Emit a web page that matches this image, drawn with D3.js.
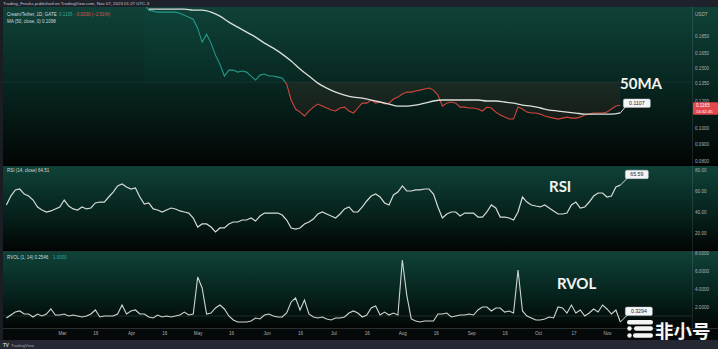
<!DOCTYPE html>
<html><head><meta charset="utf-8">
<script src="https://cdn.jsdelivr.net/npm/d3@7"></script>
<style>html,body{margin:0;padding:0;background:#000;overflow:hidden}</style>
</head><body><svg id="c" width="718" height="349"></svg>
<script>
// ---------- data ----------
const priceStart = "2023-04-07", priceStepDays = 2;
const price = [0.2300,0.2207,0.2193,0.2178,0.2178,0.2178,0.2178,0.2178,0.2163,0.2135,
0.2106,0.2078,0.1956,0.1781,0.1879,0.1769,0.1632,0.1536,0.1418,0.1476,
0.1476,0.1456,0.1466,0.1456,0.1418,0.1380,0.1427,0.1437,0.1418,0.1418,
0.1408,0.1399,0.1343,0.1207,0.1136,0.1113,0.1084,0.1121,0.1151,0.1175,
0.1159,0.1144,0.1128,0.1121,0.1144,0.1151,0.1121,0.1106,0.1144,0.1182,
0.1182,0.1207,0.1182,0.1191,0.1175,0.1182,0.1215,0.1231,0.1256,0.1273,
0.1273,0.1282,0.1290,0.1299,0.1308,0.1290,0.1248,0.1159,0.1182,0.1191,
0.1182,0.1151,0.1151,0.1144,0.1144,0.1136,0.1121,0.1151,0.1144,0.1113,
0.1091,0.1076,0.1062,0.1062,0.1151,0.1136,0.1113,0.1106,0.1106,0.1098,
0.1084,0.1076,0.1069,0.1062,0.1069,0.1076,0.1069,0.1069,0.1076,0.1091,
0.1098,0.1106,0.1106,0.1106,0.1113,0.1136,0.1159,0.1165];
const baselineValue = 0.1362;

const maStart = "2023-04-09", maStepDays = 4;
const ma50 = [0.2222,0.2222,0.2222,0.2222,0.2222,0.2207,0.2207,0.2178,0.2120,0.2037,
0.1969,0.1904,0.1842,0.1769,0.1711,0.1643,0.1568,0.1486,0.1418,0.1352,
0.1308,0.1273,0.1248,0.1231,0.1223,0.1207,0.1191,0.1175,0.1159,0.1159,
0.1167,0.1182,0.1199,0.1207,0.1207,0.1207,0.1207,0.1207,0.1199,0.1199,
0.1191,0.1182,0.1167,0.1159,0.1144,0.1128,0.1121,0.1113,0.1106,0.1098,
0.1098,0.1098,0.1098,0.1107];

const oscStart = "2023-02-04", oscStepDays = 2;
const rsi = [46.7,55.2,61.0,61.9,57.1,55.2,51.4,44.8,41.9,40.0,
41.0,42.9,44.8,51.4,45.7,42.9,41.9,44.8,42.9,43.8,
48.6,49.5,49.5,54.3,59.0,64.8,66.7,63.8,61.9,62.9,
54.3,47.6,48.6,42.9,41.9,40.0,41.9,43.8,42.9,41.0,
40.0,39.0,34.3,25.7,28.6,28.6,25.7,21.0,24.8,24.8,
28.6,30.5,30.5,32.4,32.4,34.3,31.4,36.2,39.0,39.0,
39.0,39.0,37.1,32.4,24.8,23.8,24.8,28.6,30.5,33.3,
38.1,40.0,38.1,36.2,34.3,38.1,42.9,44.8,40.0,40.0,
44.8,50.5,55.2,57.1,54.3,48.6,46.7,56.2,59.0,64.8,
60.0,60.0,61.0,61.0,61.9,61.9,57.1,44.8,34.3,38.1,
40.0,40.0,36.2,39.0,39.0,39.0,35.2,35.2,40.0,46.7,
43.8,35.2,35.2,34.3,32.4,40.0,54.3,49.5,46.7,45.7,
44.8,46.7,43.8,41.0,38.1,38.1,39.0,46.7,49.5,43.8,
44.8,49.5,55.2,58.1,58.1,54.3,55.2,63.8,65.59];
const rvol = [0.78,1.11,1.44,1.56,1.22,1.22,0.89,1.22,1.00,1.22,
1.78,1.11,1.11,1.22,1.00,1.11,1.00,0.89,1.00,1.22,
1.67,0.89,1.00,1.00,1.00,1.22,2.22,1.22,1.56,1.67,
1.22,1.22,0.89,0.78,1.11,0.89,1.00,0.89,1.00,1.11,
1.44,1.11,1.22,5.33,4.11,1.22,1.33,1.89,2.22,1.78,
1.00,0.56,0.33,0.33,0.33,0.44,0.78,0.67,1.11,1.22,
1.00,0.89,0.89,1.33,2.56,3.00,1.67,2.78,1.22,0.89,
0.78,0.89,0.67,0.56,0.78,0.78,0.89,1.33,1.56,1.33,
0.89,1.11,1.89,2.11,1.11,1.44,1.11,1.33,1.11,7.22,
3.30,0.67,0.44,0.33,0.44,0.44,0.44,1.22,1.22,1.33,
0.89,1.00,1.11,1.11,1.22,1.11,1.67,2.00,2.00,1.56,
1.89,1.89,1.44,1.56,1.33,6.11,1.56,1.00,0.78,0.56,
0.56,0.67,0.89,0.78,2.00,1.89,1.33,2.22,1.33,1.67,
1.00,1.33,1.78,1.44,2.22,1.78,1.22,1.67,0.3294];
const rvolLevel = 1.0;

const priceTicks = [0.1850,0.1650,0.1500,0.1350,0.1200,0.1000,0.0900,0.0800];
const rsiTicks = [20,40,60,80];
const rvolTicks = [2,4,6,8];
const xTickDates = ["2023-03-01","2023-03-16","2023-04-01","2023-04-16","2023-05-01","2023-05-16","2023-06-01","2023-06-16","2023-07-01","2023-07-16","2023-08-01","2023-08-16","2023-09-01","2023-09-16","2023-10-01","2023-10-17","2023-11-01"];
const xTickLabels = ["Mar","16","Apr","16","May","16","Jun","16","Jul","16","Aug","16","Sep","16","Oct","17","Nov"];

// ---------- helpers ----------
const parse = d3.utcParse("%Y-%m-%d");
const series = (start, step, vals) => vals.map((v,i)=>({d:d3.utcDay.offset(parse(start), step*i), v}));
const P = series(priceStart, priceStepDays, price);
const M = series(maStart, maStepDays, ma50);
const R = series(oscStart, oscStepDays, rsi);
const V = series(oscStart, oscStepDays, rvol);

const svg = d3.select("#c");
const defs = svg.append("defs");
const FONT = "'Liberation Sans', Arial, sans-serif";
const AX = 692;

// scales
const x = d3.scaleUtc().domain([parse("2023-03-01"), parse("2023-11-01")]).range([62, 607]);
const yP = d3.scaleLog().domain([0.078, 0.2255]).range([165, 7]);
const yR = d3.scaleLinear().domain([0, 100]).range([254, 149]);
const yV = d3.scaleLinear().domain([0, 8]).range([325, 253]);

// gradients
function grad(id){
  const g = defs.append("linearGradient").attr("id", id).attr("x1",0).attr("y1",0).attr("x2",0).attr("y2",1);
  g.append("stop").attr("offset","0%").attr("stop-color","#0f4238");
  g.append("stop").attr("offset","50%").attr("stop-color","#072620");
  g.append("stop").attr("offset","100%").attr("stop-color","#020605");
}
grad("gMain"); grad("gRsi"); grad("gVol");
function clip(id, x0, y0, w, h){
  defs.append("clipPath").attr("id", id).append("rect").attr("x",x0).attr("y",y0).attr("width",w).attr("height",h);
}
const yBase = yP(baselineValue);
clip("cMain", 3, 7, AX-3, 157);
clip("cAbove", 3, 7, AX-3, yBase-7);
clip("cBelow", 3, yBase, AX-3, 164-yBase);
clip("cRsi", 3, 166, AX-3, 84);
clip("cVol", 3, 252, AX-3, 76);

// backgrounds
svg.append("rect").attr("width",718).attr("height",349).attr("fill","#000");
svg.append("rect").attr("x",0).attr("y",0).attr("width",718).attr("height",7).attr("fill","#1f222a");
svg.append("rect").attr("x",0).attr("y",7).attr("width",718).attr("height",157).attr("fill","url(#gMain)");
svg.append("rect").attr("x",0).attr("y",166).attr("width",718).attr("height",84).attr("fill","url(#gRsi)");
svg.append("rect").attr("x",0).attr("y",252).attr("width",718).attr("height",76).attr("fill","url(#gVol)");
svg.append("line").attr("x1",0).attr("x2",718).attr("y1",251.5).attr("y2",251.5).attr("stroke","#1e3a34");
svg.append("rect").attr("x",0).attr("y",328).attr("width",718).attr("height",12).attr("fill","#05090a");
svg.append("line").attr("x1",0).attr("x2",718).attr("y1",328.5).attr("y2",328.5).attr("stroke","#2a302f");
svg.append("rect").attr("x",0).attr("y",340).attr("width",718).attr("height",9).attr("fill","#252832");
svg.append("rect").attr("x",0).attr("y",7).attr("width",3).attr("height",333).attr("fill","#1a1d24");
svg.append("line").attr("x1",AX+0.5).attr("x2",AX+0.5).attr("y1",7).attr("y2",328).attr("stroke","rgba(255,255,255,0.10)");

// ---------- main panel ----------
const gM = svg.append("g");
gM.append("line").attr("x1",3).attr("x2",AX).attr("y1",yBase).attr("y2",yBase)
  .attr("stroke","rgba(255,255,255,0.08)").attr("stroke-width",0.8);
const area = d3.area().x(d=>x(d.d)).y0(yBase).y1(d=>yP(d.v));
const lineP = d3.line().x(d=>x(d.d)).y(d=>yP(d.v));
gM.append("path").datum(P).attr("d",area).attr("fill","rgba(38,166,154,0.035)").attr("clip-path","url(#cAbove)");
gM.append("path").datum(P).attr("d",area).attr("fill","rgba(239,83,80,0.08)").attr("clip-path","url(#cBelow)");
gM.append("path").datum(P).attr("d",lineP).attr("fill","none").attr("stroke","#22998a").attr("stroke-width",1.1).attr("clip-path","url(#cAbove)");
gM.append("path").datum(P).attr("d",lineP).attr("fill","none").attr("stroke","#d0463c").attr("stroke-width",1.1).attr("clip-path","url(#cBelow)");
gM.append("path").datum(M).attr("d",d3.line().x(d=>x(d.d)).y(d=>yP(d.v)).curve(d3.curveMonotoneX))
  .attr("fill","none").attr("stroke","#dcdfda").attr("stroke-width",1.3).attr("clip-path","url(#cMain)");

// ---------- RSI ----------
svg.append("path").datum(R).attr("d",d3.line().x(d=>x(d.d)).y(d=>yR(d.v)))
  .attr("fill","none").attr("stroke","#d6dad6").attr("stroke-width",1.2).attr("clip-path","url(#cRsi)");

// ---------- RVOL ----------
svg.append("line").attr("x1",3).attr("x2",AX).attr("y1",yV(rvolLevel)).attr("y2",yV(rvolLevel))
  .attr("stroke","rgba(120,170,160,0.30)").attr("stroke-width",0.7);
svg.append("path").datum(V).attr("d",d3.line().x(d=>x(d.d)).y(d=>yV(d.v)))
  .attr("fill","none").attr("stroke","#cfd5d1").attr("stroke-width",1.1).attr("clip-path","url(#cVol)");

// ---------- axes ----------
function styleAxis(g){
  g.select(".domain").remove();
  g.selectAll("text").attr("fill","#aab0b3").attr("font-size",4.6).attr("font-family",FONT);
}
svg.append("g").attr("transform",`translate(${AX+3},0)`)
  .call(d3.axisRight(yP).tickValues(priceTicks).tickFormat(d3.format(".4f")).tickSize(0).tickPadding(0))
  .call(styleAxis);
svg.append("g").attr("transform",`translate(${AX+3},0)`)
  .call(d3.axisRight(yR).tickValues(rsiTicks).tickFormat(d3.format(".2f")).tickSize(0).tickPadding(0))
  .call(styleAxis);
svg.append("g").attr("transform",`translate(${AX+3},0)`)
  .call(d3.axisRight(yV).tickValues(rvolTicks).tickFormat(d3.format(".4f")).tickSize(0).tickPadding(0))
  .call(styleAxis);
svg.append("text").attr("x",AX+3).attr("y",15.5).text("USDT").attr("fill","#aab0b3").attr("font-size",4.6).attr("font-family",FONT);

svg.append("g").attr("transform","translate(0,332)")
  .call(d3.axisBottom(x).tickValues(xTickDates.map(parse)).tickFormat((d,i)=>xTickLabels[i]).tickSize(0).tickPadding(0))
  .call(g=>{ g.select(".domain").remove(); g.selectAll("text").attr("fill","#aab0b3").attr("font-size",4.6).attr("font-family",FONT); });

// price label on axis (last value)
const lastP = P[P.length-1];
const pl = svg.append("g").attr("transform",`translate(${AX+1},${yP(lastP.v)-3})`);
pl.append("rect").attr("width",25).attr("height",12.5).attr("rx",1).attr("fill","#e2474b");
pl.append("text").attr("x",3).attr("y",5.2).text(d3.format(".4f")(lastP.v)).attr("fill","#fff").attr("font-size",4.6).attr("font-family",FONT);
pl.append("text").attr("x",3).attr("y",10.6).text("16:32:45").attr("fill","#fff").attr("font-size",4.3).attr("font-family",FONT);

// ---------- callouts ----------
function callout(px, py, label, bx, by, w){
  svg.append("line").attr("x1",px).attr("y1",py).attr("x2",bx+2).attr("y2",by+8)
    .attr("stroke","#f0f2f5").attr("stroke-width",0.9);
  svg.append("rect").attr("x",bx).attr("y",by).attr("width",w).attr("height",8.5).attr("rx",1.5)
    .attr("fill","#f3f5f8").attr("stroke","#c9ccd2").attr("stroke-width",0.4);
  svg.append("text").attr("x",bx+w/2).attr("y",by+6).attr("text-anchor","middle").text(label)
    .attr("fill","#1a1e2a").attr("font-size",5.2).attr("font-family",FONT);
}
const lastM = M[M.length-1], lastR = R[R.length-1], lastV = V[V.length-1];
callout(x(lastM.d), yP(lastM.v), d3.format(".4f")(lastM.v), x(lastM.d)+3, yP(lastM.v)-14, 27);
callout(x(lastR.d), yR(lastR.v), d3.format(".2f")(lastR.v), x(lastR.d)+5, yR(lastR.v)-15, 23);
callout(x(lastV.d), yV(lastV.v), d3.format(".4f")(lastV.v), x(lastV.d)+5, yV(lastV.v)-15, 27);

// ---------- big labels ----------
const big = (t, xx, yy) => svg.append("text").attr("x",xx).attr("y",yy).text(t)
  .attr("fill","#f2f4f3").attr("font-size",15).attr("font-weight",700).attr("font-family","Lato, 'Noto Sans', sans-serif");
big("50MA", 620, 89);
big("RSI", 549, 192);
big("RVOL", 557, 289);

// ---------- legends ----------
const txt = (t, xx, yy, col, fs) => svg.append("text").attr("x",xx).attr("y",yy).text(t)
  .attr("fill",col).attr("font-size",fs||4.5).attr("font-family",FONT);
txt("Trading_Freaks published on TradingView.com, Nov 07, 2023 01:27 UTC-3", 3, 5.2, "#c3c6cc", 4.4);
txt("Cream/Tether, 1D, GATE", 7, 16, "#d7dadf");
txt("0.1195", 59, 16, "#2aa895");
txt("\u22120.0030 (\u22122.51%)", 74, 16, "#e0514a");
txt("MA (50, close, 0)  0.1098", 7, 22.5, "#d7dadf");
txt("RSI (14, close)  64.51", 7, 172, "#d7dadf");
txt("RVOL (1, 14)  0.2546", 7, 259, "#d7dadf");
txt("1.0000", 53, 259, "#2aa8a0");

// bottom strip
txt("TV", 3, 346.5, "#c8cbd2", 4.6).attr("font-weight",700);
txt("TradingView", 11, 346.5, "#9ea3ad", 4.2);

// watermark
const wm = svg.append("g").attr("fill","#f4f4f4");
wm.append("rect").attr("x",627).attr("y",320).attr("width",26).attr("height",4.5).attr("rx",2.2);
wm.append("circle").attr("cx",629.5).attr("cy",328.5).attr("r",2.2);
wm.append("rect").attr("x",634).attr("y",326.3).attr("width",19).attr("height",4.5).attr("rx",2.2);
wm.append("circle").attr("cx",629.5).attr("cy",335.5).attr("r",2.2);
wm.append("rect").attr("x",633).attr("y",333.3).attr("width",20).attr("height",4.5).attr("rx",2.2);
svg.append("text").attr("x",655).attr("y",337.5).text("非小号").attr("fill","#f4f4f4")
  .attr("font-size",18.5).attr("font-weight",700).attr("font-family","'Noto Sans CJK SC', sans-serif");
</script></body></html>
